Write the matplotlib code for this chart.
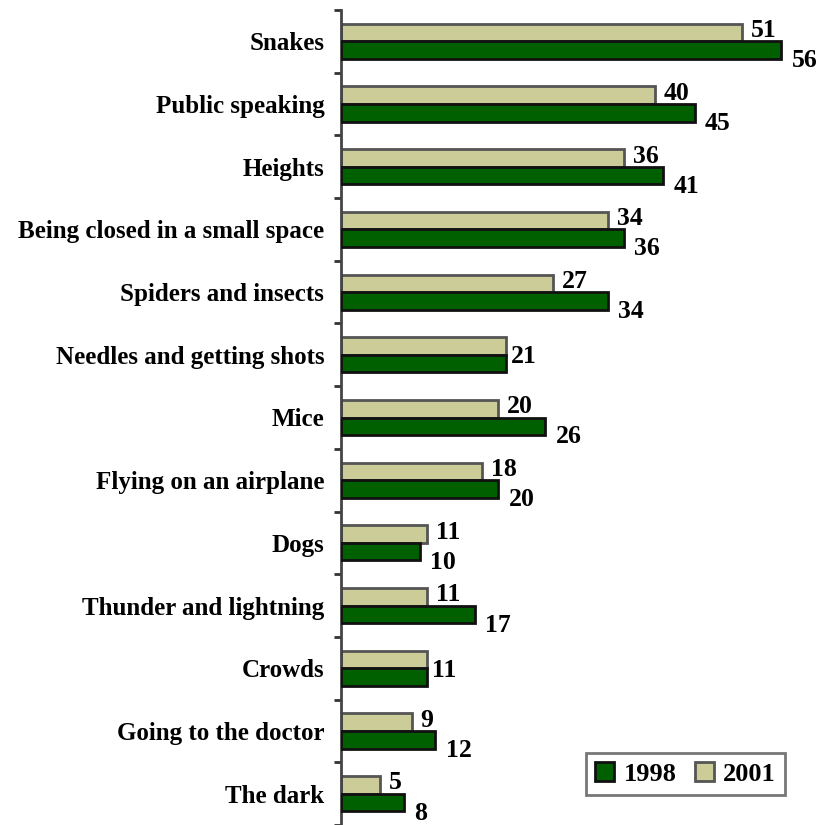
import matplotlib
matplotlib.use("Agg")
import matplotlib.pyplot as plt
import numpy as np

categories = ["Snakes", "Public speaking", "Heights", "Being closed in a small space",
              "Spiders and insects", "Needles and getting shots", "Mice",
              "Flying on an airplane", "Dogs", "Thunder and lightning", "Crowds",
              "Going to the doctor", "The dark"]
v1998 = [56, 45, 41, 36, 34, 21, 26, 20, 10, 17, 11, 12, 8]
v2001 = [51, 40, 36, 34, 27, 21, 20, 18, 11, 11, 11, 9, 5]
series_labels = ["1998", "2001"]

green = "#006000"
beige = "#cccc99"
serif = ["Liberation Serif", "DejaVu Serif"]

fig = plt.figure(figsize=(8.28, 8.25), dpi=100)
ax = fig.add_axes([341/828, 0, (828-341)/828, 815/825])

y = np.arange(len(categories))
h = 0.28
off = 0.14
b01 = ax.barh(y - off, v2001, height=h, color=beige, edgecolor="#555555", linewidth=2, label=series_labels[1], zorder=2)
b98 = ax.barh(y + off, v1998, height=h, color=green, edgecolor="#111111", linewidth=2, label=series_labels[0], zorder=3)

fs = 18.5
for i in range(len(categories)):
    a, b = v1998[i], v2001[i]
    if a == b:
        ax.text(a + 0.6, y[i] + 0.03, str(a), ha="left", va="center", fontsize=fs,
                fontweight="bold", family=serif)
    else:
        ax.text(b + 1.1, y[i] - off - 0.03, str(b), ha="left", va="center", fontsize=fs,
                fontweight="bold", family=serif)
        ax.text(a + 1.3, y[i] + off + 0.17, str(a), ha="left", va="center", fontsize=fs,
                fontweight="bold", family=serif)

ax.set_xlim(0, (828-341)/7.86)
ax.set_ylim(-0.5 + 815/63, -0.5)
ax.set_yticks(y)
ax.set_yticklabels(categories, family=serif, fontweight="bold", fontsize=18)
ax.tick_params(axis="y", which="major", length=0, pad=12)
ax.set_yticks(np.arange(-0.5, len(categories), 1), minor=True)
ax.tick_params(axis="y", which="minor", length=5, width=2, color="#333333")
ax.set_xticks([])
for s in ["top", "right", "bottom"]:
    ax.spines[s].set_visible(False)
ax.spines["left"].set_linewidth(2)
ax.spines["left"].set_color("#444444")

leg = ax.legend(handles=[b98, b01], loc="lower right", bbox_to_anchor=(785/828, 30/825),
                bbox_transform=fig.transFigure, ncol=2, frameon=True, fancybox=False,
                prop={"family": serif, "weight": "bold", "size": 19},
                handlelength=0.72, handleheight=0.75, handletextpad=0.35, columnspacing=0.7,
                borderpad=0.35, borderaxespad=0)
leg.get_frame().set_edgecolor("#555555")
leg.get_frame().set_linewidth(2)

fig.savefig("out.png", dpi=100)
